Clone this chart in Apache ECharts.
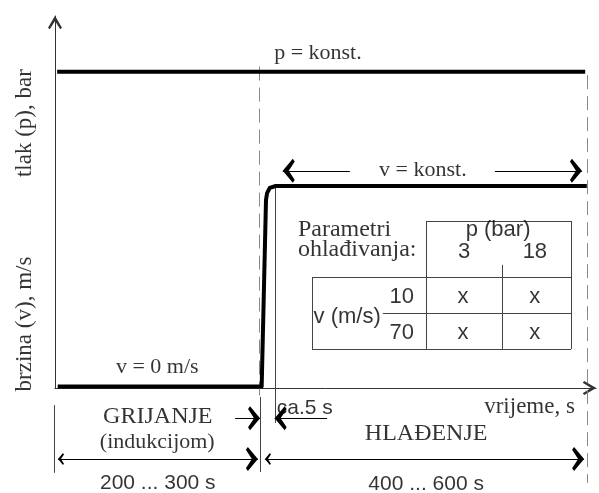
<!DOCTYPE html>
<html>
<head>
<meta charset="utf-8">
<script src="https://cdn.jsdelivr.net/npm/echarts@6/dist/echarts.min.js"></script>
<style>
html, body { margin: 0; padding: 0; background: #fff; }
#chart { width: 599px; height: 493px; }
</style>
</head>
<body>
<div id="chart"></div>
<script>
// schematic units: time 0..100 along x, level 0..100 along y
const pressureLine = [[0.4, 85], [98, 85]]
const speedLine = [[0.5, 0.4], [38.2, 0.4], [39.0, 50.5], [39.2, 52.4], [39.7, 53.8], [40.8, 54.3], [98.3, 54.3]]

const phaseBounds = [
  [[37.7, 86.4], [37.7, -3.2]],
  [[98.3, 84.1], [98.3, -25.5]]
]
const guideRules = [
  [[40.7, 54.3], [40.7, -9.4]],
  [[-0.2, -4.6], [-0.2, -22.8]],
  [[38.0, -2.4], [38.0, -22.6]]
]
const tableRules = [
  [[68.6, 44.9], [95.4, 44.9]],
  [[68.6, 44.9], [68.6, 10.5]],
  [[82.6, 33.1], [82.6, 10.5]],
  [[95.4, 44.9], [95.4, 10.5]],
  [[47.5, 29.8], [95.4, 29.8]],
  [[60.6, 20.2], [95.4, 20.2]],
  [[47.5, 10.5], [95.4, 10.5]],
  [[47.5, 29.8], [47.5, 10.5]]
]
const singleArrows = [
  [[54.5, 58.4], [42.1, 58.4]],
  [[81.3, 58.4], [97.4, 58.4]],
  [[33.3, -8.1], [37.9, -8.1]],
  [[50.3, -8.1], [40.6, -8.1]]
]
const doubleArrows = [
  [[0.55, -19.1], [37.5, -19.1]],
  [[38.8, -19.1], [97.8, -19.1]]
]

// text, x, y
const serifTexts = [
  ['p = konst.', 48.6, 90.0],
  ['v = konst.', 68.0, 58.6],
  ['v = 0 m/s', 18.9, 5.6],
  ['(indukcijom)', 18.9, -14.5]
]
const capsTexts = [
  ['GRIJANJE', 19.0, -7.8],
  ['HLAĐENJE', 68.6, -12.4]
]
const serifLeftTexts = [
  ['Parametri', 44.9, 42.5],
  ['ohlađivanja:', 44.9, 37.1]
]
const serifRightTexts = [
  ['vrijeme, s', 96.1, -5.1]
]
const axisNames = [
  ['tlak (p), bar', -5.5, 71.2],
  ['brzina (v), m/s', -5.5, 17.2]
]
const tableTexts = [
  ['p (bar)', 81.9, 42.5],
  ['3', 75.6, 36.6],
  ['18', 88.7, 36.6],
  ['10', 64.1, 24.5],
  ['70', 64.1, 14.8],
  ['v (m/s)', 54.0, 19.1],
  ['x', 75.4, 24.5],
  ['x', 88.7, 24.5],
  ['x', 75.4, 14.8],
  ['x', 88.7, 14.8]
]
const durationTexts = [
  ['200 ... 300 s', 19.0, -25.5],
  ['400 ... 600 s', 68.6, -25.8]
]
const sansLeftTexts = [
  ['ca.5 s', 41.0, -5.4]
]

const SERIF = 'Liberation Serif'
const SANS = 'Liberation Sans'
// barbed head pointing up, tip at the centre of its box
const chevron = 'path://M6,0 L12,10 L10.6,12 L6,6 L1.4,12 L0,10 Z M6,-12 L6,-12'
const axisArrow = 'path://M7,0 L14,12 L12.2,13.5 L7,5.2 L1.8,13.5 L0,12 Z'

function segs (list) {
  return list.map(s => ({ coords: s }))
}

function textSeries (list, label) {
  return {
    type: 'scatter',
    silent: true,
    clip: false,
    symbolSize: 1,
    itemStyle: { color: 'rgba(0,0,0,0)' },
    data: list.map(t => ({ name: t[0], value: [t[1], t[2]] })),
    label: Object.assign({
      show: true,
      position: 'inside',
      formatter: '{b}',
      color: '#000',
      verticalAlign: 'middle'
    }, label)
  }
}

function rulesSeries (list, lineStyle, symbol) {
  return {
    type: 'lines',
    coordinateSystem: 'cartesian2d',
    silent: true,
    clip: false,
    polyline: false,
    symbol: symbol || ['none', 'none'],
    symbolSize: [12, 24],
    lineStyle: Object.assign({ opacity: 1, curveness: 0 }, lineStyle),
    data: segs(list)
  }
}

function axisStyle () {
  return {
    show: true,
    lineStyle: { color: '#333', width: 1 },
    symbol: ['none', axisArrow],
    symbolSize: [14, 13.5],
    symbolOffset: [0, -6.5]
  }
}

const chart = echarts.init(document.getElementById('chart'))
chart.setOption({
  animation: false,
  grid: { left: 55, right: 3, top: 16, bottom: 105 },
  xAxis: {
    type: 'value', min: 0, max: 100,
    axisLine: axisStyle(),
    axisTick: { show: false }, axisLabel: { show: false }, splitLine: { show: false }
  },
  yAxis: {
    type: 'value', min: 0, max: 100,
    axisLine: axisStyle(),
    axisTick: { show: false }, axisLabel: { show: false }, splitLine: { show: false }
  },
  series: [
    rulesSeries(phaseBounds, { color: '#888', width: 1, type: [14, 7] }),
    rulesSeries(guideRules, { color: '#444', width: 1 }),
    rulesSeries(tableRules, { color: '#444', width: 1 }),
    rulesSeries(singleArrows, { color: '#000', width: 1 }, ['none', chevron]),
    rulesSeries(doubleArrows, { color: '#000', width: 1 }, [chevron, chevron]),
    {
      type: 'line', silent: true, clip: false, showSymbol: false,
      lineStyle: { color: '#000', width: 4 },
      data: pressureLine
    },
    {
      type: 'line', silent: true, clip: false, showSymbol: false,
      lineStyle: { color: '#000', width: 4, join: 'round' },
      data: speedLine
    },
    textSeries(serifTexts, { fontFamily: SERIF, fontSize: 22, align: 'center' }),
    textSeries(capsTexts, { fontFamily: SERIF, fontSize: 24, align: 'center' }),
    textSeries(serifLeftTexts, { fontFamily: SERIF, fontSize: 24, align: 'left' }),
    textSeries(serifRightTexts, { fontFamily: SERIF, fontSize: 23, align: 'right' }),
    textSeries(axisNames, { fontFamily: SERIF, fontSize: 23, align: 'center', rotate: 90 }),
    textSeries(tableTexts, { fontFamily: SANS, fontSize: 22, align: 'center' }),
    textSeries(durationTexts, { fontFamily: SANS, fontSize: 21, align: 'center' }),
    textSeries(sansLeftTexts, { fontFamily: SANS, fontSize: 21, align: 'left' })
  ]
})
</script>
</body>
</html>
